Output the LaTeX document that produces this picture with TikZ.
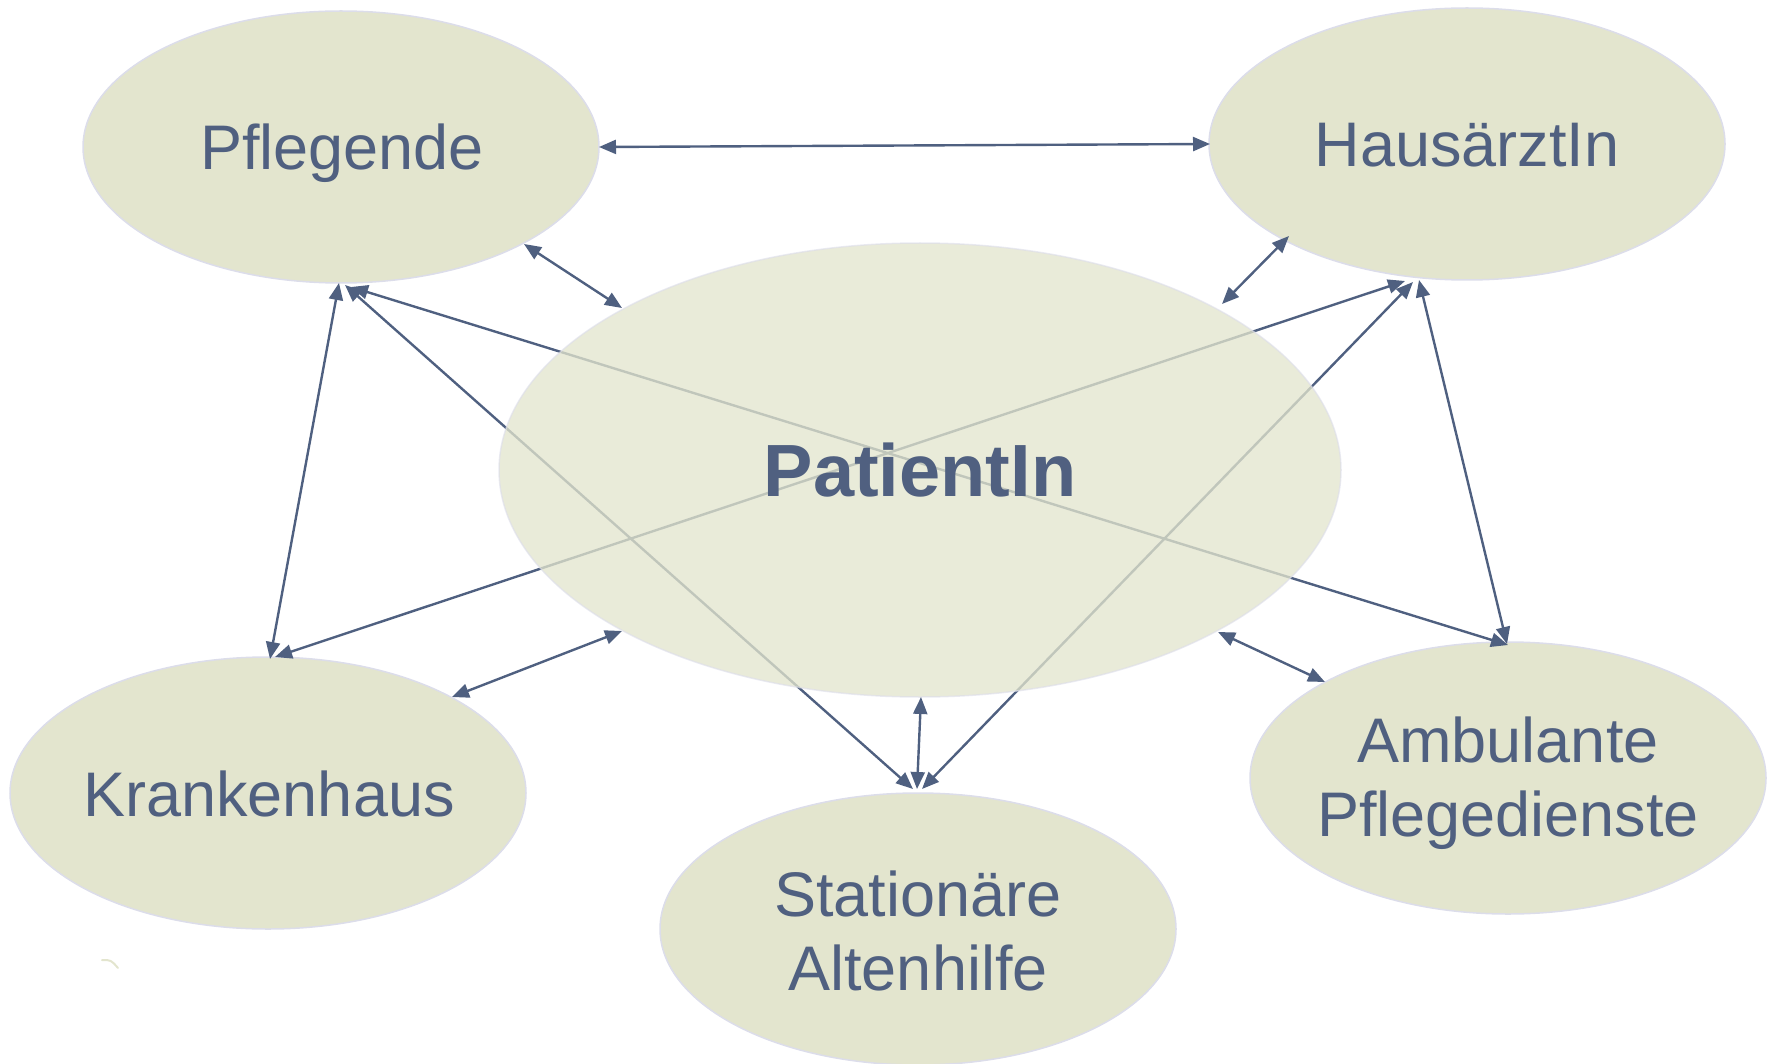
\documentclass[tikz,border=0pt]{standalone}
\usepackage{fontspec}
\setmainfont{Liberation Sans}
\usetikzlibrary{shapes.geometric,arrows.meta}
\definecolor{efill}{HTML}{E3E5CE}
\definecolor{eline}{HTML}{DCDDEA}
\definecolor{txt}{HTML}{506080}
\definecolor{arr}{HTML}{4F6080}
\tikzset{
  bubble/.style={ellipse, fill=efill, draw=eline, line width=1.5pt, inner sep=0pt,
    minimum width=516pt, minimum height=272pt},
  label/.style={text=txt, align=center, inner sep=0pt, font=\fontsize{63}{74}\selectfont},
  link/.style={draw=arr, line width=2.4pt, {Triangle[length=17pt,width=14pt]}-{Triangle[length=17pt,width=14pt]}}
}
\begin{document}
\begin{tikzpicture}[x=1pt,y=-1pt]
\useasboundingbox (0,0) rectangle (1776,1064);
% outer bubbles
\node[bubble] (pfl) at (341,147) {};
\node[bubble] (haus) at (1467,144) {};
\node[bubble] (kh) at (268,793) {};
\node[bubble] (sta) at (918,929) {};
\node[bubble] (amb) at (1508,778) {};
\node[label] (tpfl) at (342,153) {Pflegende};
\node[label] (thaus) at (1467,145) {HausärztIn};
\node[label] (tkh) at (269,794) {Krankenhaus};
\node[label] (tsta) at (918,931) {Stationäre\\Altenhilfe};
\node[label] (tamb) at (1508,783) {Ambulante\\Pflegedienste};
% endpoints
\coordinate (p1) at (599,147);  \coordinate (h1) at (1210,144);
\coordinate (p2) at (524,244);  \coordinate (c2) at (622,308);
\coordinate (h3) at (1289,236); \coordinate (c3) at (1222,304);
\coordinate (k4) at (452,697);  \coordinate (c4) at (622,631);
\coordinate (a5) at (1325,682); \coordinate (c5) at (1218,632);
\coordinate (s6) at (917,789);  \coordinate (c6) at (921,697);
\coordinate (p7) at (339,283);  \coordinate (k7) at (270,659);
\coordinate (p8) at (345,285);  \coordinate (s8) at (913,789);
\coordinate (p9) at (351,287);  \coordinate (a9) at (1508,645);
\coordinate (h10) at (1405,281); \coordinate (k10) at (275,657);
\coordinate (h11) at (1413,282); \coordinate (s11) at (922,789);
\coordinate (h12) at (1419,280); \coordinate (a12) at (1507,644);
% long connectors (under the centre bubble)
\draw[link] (p1) -- (h1);
\draw[link] (p7) -- (k7);
\draw[link] (p8) -- (s8);
\draw[link] (p9) -- (a9);
\draw[link] (h10) -- (k10);
\draw[link] (h11) -- (s11);
\draw[link] (h12) -- (a12);
% centre bubble
\node[bubble, fill opacity=0.77, draw opacity=0.6, minimum width=842pt, minimum height=454pt] (pat) at (920,470) {};
\node[label, font=\fontsize{74}{86}\selectfont\bfseries] (tpat) at (920,470) {PatientIn};
% short connectors
\draw[link] (p2) -- (c2);
\draw[link] (h3) -- (c3);
\draw[link] (k4) -- (c4);
\draw[link] (a5) -- (c5);
\draw[link] (s6) -- (c6);
% small mark
\draw[efill, line width=2pt, line cap=round] (102,960) .. controls (111,960) .. (118,968);
\end{tikzpicture}
\end{document}
